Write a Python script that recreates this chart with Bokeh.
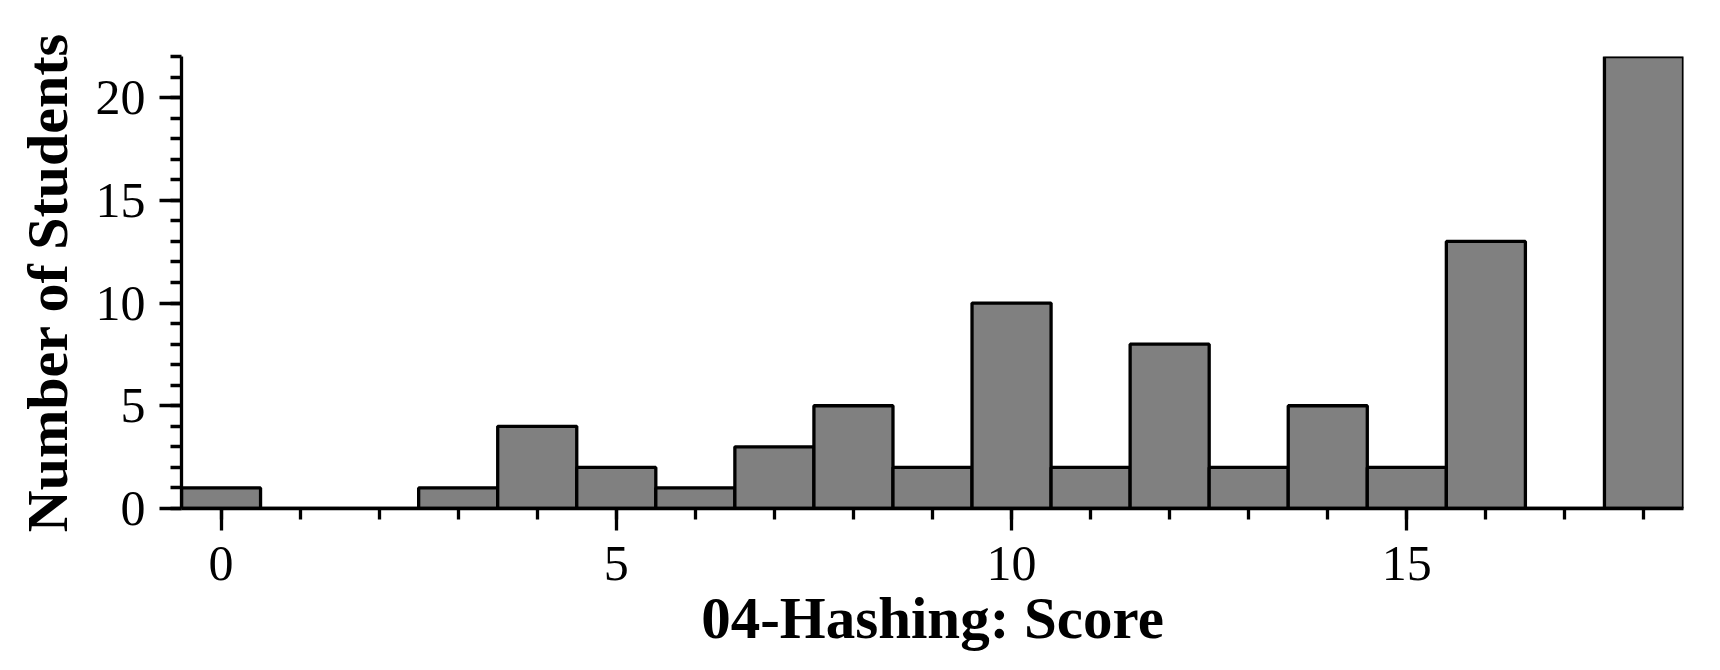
from bokeh.plotting import figure
from bokeh.models import Range1d, SingleIntervalTicker, Title, ColumnDataSource
from bokeh.embed import file_html
from bokeh.resources import INLINE

# Data
scores = [0, 1, 2, 3, 4, 5, 6, 7, 8, 9, 10, 11, 12, 13, 14, 15, 16, 17, 18]
students = [1, 0, 0, 1, 4, 2, 1, 3, 5, 2, 10, 2, 8, 2, 5, 2, 13, 0, 22]
x_label = "04-Hashing: Score"
y_label = "Number of Students"

FONT = "Liberation Serif"

p = figure(width=1712, height=670, output_backend="svg", toolbar_location=None,
           x_range=Range1d(-0.5, 18.5), y_range=Range1d(0, 22),
           min_border_left=181, min_border_right=29,
           min_border_top=56, min_border_bottom=162)
p.outline_line_color = None
p.xgrid.visible = False
p.ygrid.visible = False
p.background_fill_color = "white"
p.border_fill_color = "white"

src = ColumnDataSource(dict(x=scores, top=students))
p.vbar(x="x", top="top", width=1, bottom=0, source=src,
       fill_color="#808080", line_color="black", line_width=3.3)

for ax in (p.xaxis[0], p.yaxis[0]):
    ax.ticker = SingleIntervalTicker(interval=5, num_minor_ticks=5)
    ax.axis_line_width = 3.3
    ax.axis_line_color = "black"
    ax.major_tick_line_width = 3.3
    ax.minor_tick_line_width = 3.3
    ax.major_tick_out = 22
    ax.major_tick_in = 0
    ax.minor_tick_out = 11
    ax.minor_tick_in = 0
    ax.major_label_text_font = FONT
    ax.major_label_text_font_size = "50px"
    ax.major_label_text_color = "black"

p.xaxis.major_label_standoff = 16
p.yaxis.major_label_standoff = 14

p.xaxis.axis_label = x_label
p.xaxis.axis_label_text_font = FONT
p.xaxis.axis_label_text_font_size = "59px"
p.xaxis.axis_label_text_font_style = "bold"
p.xaxis.axis_label_text_color = "black"
p.xaxis.axis_label_standoff = 2

p.add_layout(Title(text=y_label, align="center", offset=24, text_font=FONT,
                   text_font_size="58px", text_font_style="bold",
                   text_color="black", standoff=25), "left")

open("out.html", "w").write(file_html(p, INLINE))
